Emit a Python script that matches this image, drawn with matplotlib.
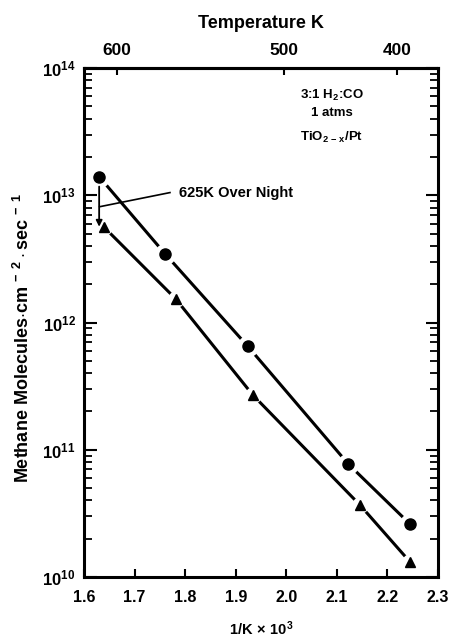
import matplotlib
matplotlib.use("Agg")
import matplotlib.pyplot as plt
from matplotlib.ticker import LogLocator, NullFormatter, FixedLocator

plt.rcParams['font.family'] = ['Liberation Sans', 'DejaVu Sans']
plt.rcParams['font.weight'] = 'bold'
plt.rcParams['mathtext.fontset'] = 'custom'
plt.rcParams['mathtext.rm'] = 'Liberation Sans:bold'
plt.rcParams['mathtext.it'] = 'Liberation Sans:bold'
plt.rcParams['mathtext.bf'] = 'Liberation Sans:bold'

# Methane formation rate vs inverse temperature
inv_t_fresh = [1.630, 1.760, 1.924, 2.123, 2.245]
rate_fresh = [1.40e13, 3.48e12, 6.5e11, 7.7e10, 2.6e10]

inv_t_aged = [1.640, 1.781, 1.934, 2.146, 2.245]
rate_aged = [5.6e12, 1.54e12, 2.69e11, 3.67e10, 1.31e10]

x_ticks = [1.6, 1.7, 1.8, 1.9, 2.0, 2.1, 2.2, 2.3]
x_tick_labels = ['1.6', '1.7', '1.8', '1.9', '2.0', '2.1', '2.2', '2.3']
y_ticks = [1e10, 1e11, 1e12, 1e13, 1e14]
y_tick_labels = ['$10^{10}$', '$10^{11}$', '$10^{12}$', '$10^{13}$', '$10^{14}$']
top_ticks = [1.665, 1.996, 2.219]
top_tick_labels = ['600', '500', '400']

fig = plt.figure(figsize=(4.52, 6.40), dpi=100)
ax = fig.add_axes([0.1858, 0.0984, 0.7832, 0.7953])
ax.set_yscale('log')
ax.set_xlim(1.6, 2.3)
ax.set_ylim(1e10, 1e14)

for xs, ys, mk, ms, halo in [(inv_t_fresh, rate_fresh, 'o', 8.0, 15.5),
                             (inv_t_aged, rate_aged, '^', 7.5, 12.0)]:
    ax.plot(xs, ys, color='black', lw=2.2, zorder=2, solid_capstyle='butt')
    ax.plot(xs, ys, ls='none', marker='o', ms=halo, mfc='white', mec='none', zorder=3)
    ax.plot(xs, ys, ls='none', marker=mk, ms=ms, mfc='black', mec='black', zorder=4)

# Annotation: rate drop after overnight treatment at 625 K
ax.annotate('', xy=(inv_t_fresh[0], 5.66e12), xytext=(inv_t_fresh[0], 1.17e13),
            arrowprops=dict(arrowstyle='-|>', color='black', lw=1.3,
                            mutation_scale=9, shrinkA=0, shrinkB=0), zorder=5)
ax.plot([1.631, 1.770], [8.13e12, 1.05e13], color='black', lw=1.2, zorder=5)
ax.text(1.787, 1.05e13, '625K Over Night', fontsize=10.5, fontweight='bold',
        ha='left', va='center')

ax.text(0.700, 0.947, '3:1 H$_2$:CO', transform=ax.transAxes, fontsize=9.5,
        ha='center', va='center')
ax.text(0.700, 0.912, '1 atms', transform=ax.transAxes, fontsize=9.5,
        ha='center', va='center')
ax.text(0.700, 0.864, 'TiO$_{2\\,-\\,x}$/Pt', transform=ax.transAxes, fontsize=9.5,
        ha='center', va='center')

# Bottom axis
ax.set_xticks(x_ticks)
ax.set_xticklabels(x_tick_labels, fontsize=11.5, fontweight='bold')
ax.set_xlabel('1/K$\\,\\times\\,$10$^3$', fontsize=10.5, fontweight='bold', labelpad=11)

# Left axis
ax.yaxis.set_major_locator(FixedLocator(y_ticks))
ax.set_yticklabels(y_tick_labels, fontsize=12)
ax.yaxis.set_minor_locator(LogLocator(base=10, subs=range(2, 10), numticks=20))
ax.yaxis.set_minor_formatter(NullFormatter())
ax.set_ylabel('Methane Molecules$\\cdot$cm$^{\\;-\\;2}\\cdot$sec$^{\\;-\\;1}$',
              fontsize=13, fontweight='bold', labelpad=16)
ax.yaxis.set_label_coords(-0.145, 0.47)

ax.tick_params(axis='x', which='major', direction='in', length=6, width=1.5,
               pad=9, top=False)
ax.tick_params(axis='y', which='major', direction='in', length=9, width=1.5,
               left=True, right=True, pad=6)
ax.tick_params(axis='y', which='minor', direction='in', length=5.5, width=1.3,
               left=True, right=True)

for sp in ax.spines.values():
    sp.set_linewidth(2.2)

# Top axis: temperature
top = ax.secondary_xaxis('top')
top.set_xticks(top_ticks)
top.set_xticklabels(top_tick_labels, fontsize=12.5, fontweight='bold')
top.tick_params(direction='in', length=5, width=1.5, pad=7)
top.set_xlabel('Temperature K', fontsize=13, fontweight='bold', labelpad=11)
top.spines['top'].set_linewidth(2.2)

fig.savefig('out.png', dpi=100)
